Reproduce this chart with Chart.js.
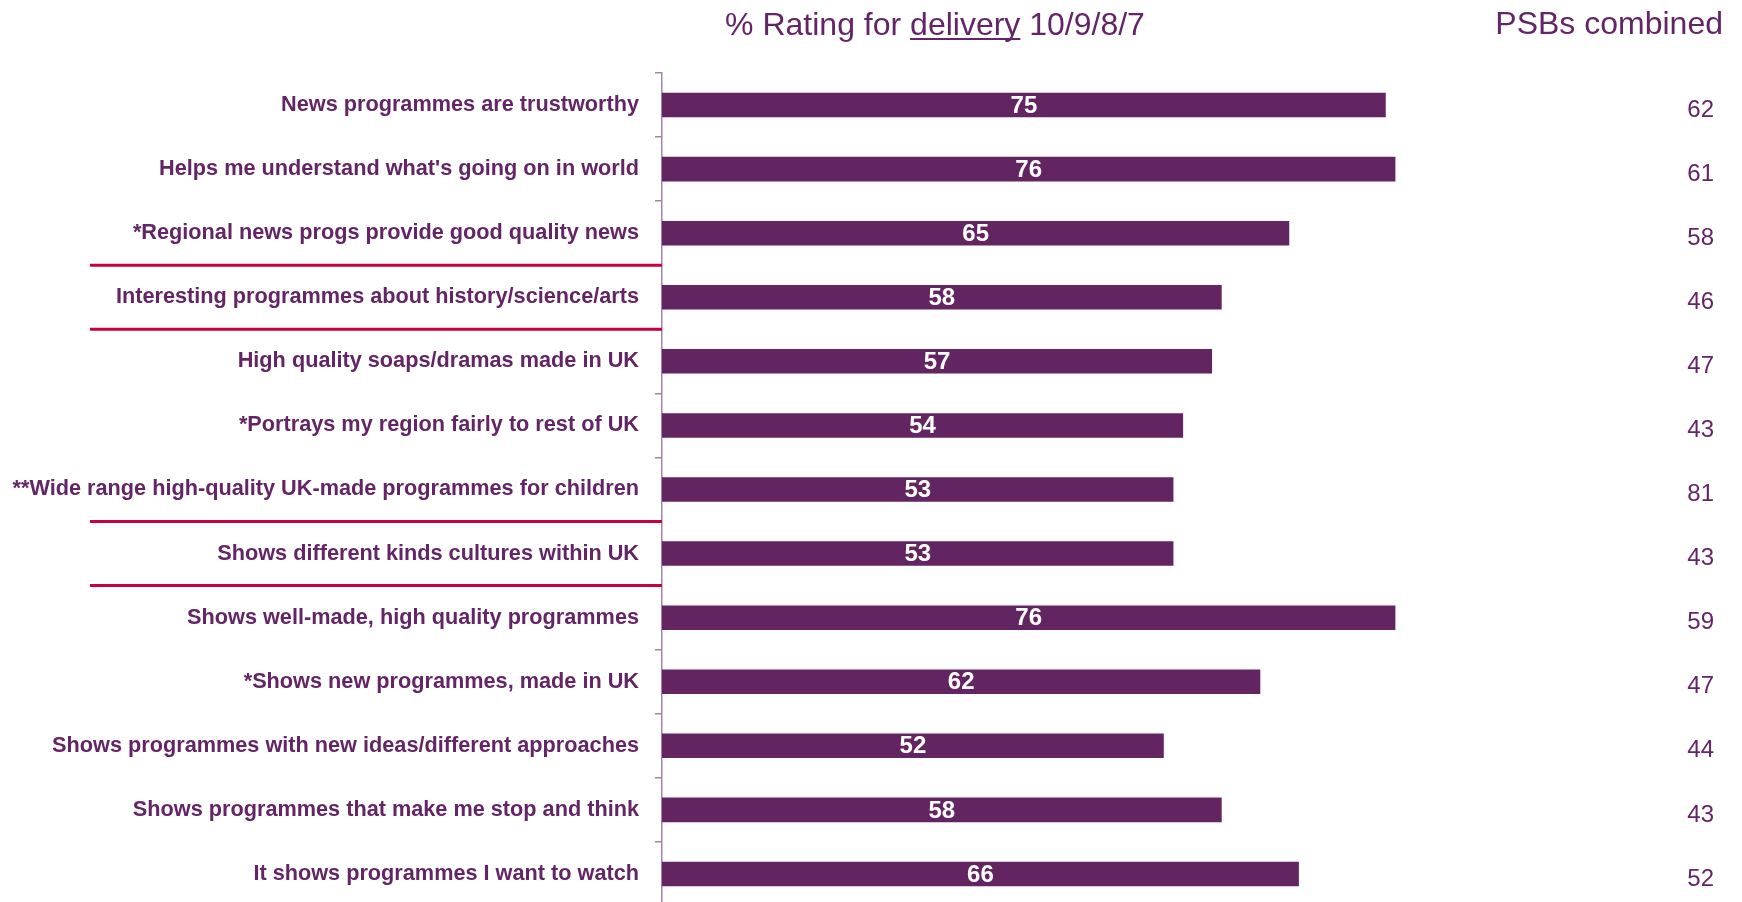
<!DOCTYPE html>
<html>
<head>
<meta charset="utf-8">
<title>% Rating for delivery</title>
<script src="https://cdn.jsdelivr.net/npm/chart.js@4/dist/chart.umd.min.js"></script>
<style>
  html, body { margin: 0; padding: 0; background: #ffffff; overflow: hidden; }
  #wrap { width: 1742px; height: 902px; overflow: hidden; position: relative; }
  canvas { display: block; }
</style>
</head>
<body>
<div id="wrap"><canvas id="chart" width="1742" height="912"></canvas></div>
<script>
// Statements rated by viewers
const categories = [
  "News programmes are trustworthy",
  "Helps me understand what's going on in world",
  "*Regional news progs provide good quality news",
  "Interesting programmes about history/science/arts",
  "High quality soaps/dramas made in UK",
  "*Portrays my region fairly to rest of UK",
  "**Wide range high-quality UK-made programmes for children",
  "Shows different kinds cultures within UK",
  "Shows well-made, high quality programmes",
  "*Shows new programmes, made in UK",
  "Shows programmes with new ideas/different approaches",
  "Shows programmes that make me stop and think",
  "It shows programmes I want to watch"
];

// % rating for delivery (10/9/8/7)
const deliveryScores = [75, 76, 65, 58, 57, 54, 53, 53, 76, 62, 52, 58, 66];

// Comparison column: PSBs combined
const psbCombined = [62, 61, 58, 46, 47, 43, 81, 43, 59, 47, 44, 43, 52];

// Category indices that start a new group (a rule is drawn above each)
const groupBreaks = [3, 4, 7, 8];

const PURPLE = "#632562";
const TEXT = "#642566";
const AXIS = "#A583AA";
const RULE = "#C9003F";
const FONT = "'Liberation Sans', Arial, Helvetica, sans-serif";

const overlay = {
  id: "overlay",
  afterDatasetsDraw(chart) {
    const ctx = chart.ctx;
    const y = chart.scales.y;
    const area = chart.chartArea;
    ctx.save();

    // values inside the bars
    const meta = chart.getDatasetMeta(0);
    ctx.fillStyle = "#ffffff";
    ctx.font = "bold 24px " + FONT;
    ctx.textAlign = "center";
    ctx.textBaseline = "middle";
    meta.data.forEach((bar, i) => {
      ctx.fillText(String(deliveryScores[i]), (bar.x + bar.base) / 2, bar.y + 1);
    });

    // group separator rules on the label side
    ctx.strokeStyle = RULE;
    ctx.lineWidth = 3;
    groupBreaks.forEach(i => {
      const yy = (y.getPixelForValue(i - 1) + y.getPixelForValue(i)) / 2;
      ctx.beginPath();
      ctx.moveTo(90, yy);
      ctx.lineTo(area.left, yy);
      ctx.stroke();
    });

    // PSBs combined column
    ctx.fillStyle = TEXT;
    ctx.font = "24px " + FONT;
    ctx.textAlign = "right";
    ctx.textBaseline = "middle";
    psbCombined.forEach((v, i) => {
      ctx.fillText(String(v), 1714, y.getPixelForValue(i) + 5);
    });

    // headings
    ctx.font = "32px " + FONT;
    ctx.textBaseline = "alphabetic";
    ctx.textAlign = "left";
    const parts = ["% Rating for ", "delivery", " 10/9/8/7"];
    const total = parts.reduce((s, p) => s + ctx.measureText(p).width, 0);
    let x = 935 - total / 2;
    parts.forEach((p, k) => {
      const w = ctx.measureText(p).width;
      ctx.fillText(p, x, 35);
      if (k === 1) {
        ctx.fillRect(x, 38, w, 2);
      }
      x += w;
    });
    ctx.textAlign = "right";
    ctx.fillText("PSBs combined", 1723, 33.5);

    ctx.restore();
  }
};

new Chart(document.getElementById("chart"), {
  type: "bar",
  data: {
    labels: categories,
    datasets: [{
      data: deliveryScores,
      backgroundColor: PURPLE,
      borderWidth: 0,
      categoryPercentage: 1.0,
      barPercentage: 0.383
    }]
  },
  options: {
    indexAxis: "y",
    responsive: false,
    animation: false,
    devicePixelRatio: 1,
    layout: { padding: { top: 73, right: 115, bottom: 6, left: 0 } },
    plugins: {
      legend: { display: false },
      tooltip: { enabled: false },
      title: { display: false }
    },
    scales: {
      x: {
        display: false,
        min: 0,
        max: 100
      },
      y: {
        afterFit(scale) {
          scale.width = 662;
          scale.paddingTop = 0;
          scale.paddingBottom = 0;
        },
        border: { display: true, color: AXIS, width: 1.5 },
        grid: {
          display: true,
          drawOnChartArea: false,
          drawTicks: true,
          tickLength: 7,
          color: AXIS,
          lineWidth: 1.5,
          offset: true
        },
        ticks: {
          color: TEXT,
          padding: 16,
          autoSkip: false,
          font: { family: FONT, size: 21.7, weight: "bold" }
        }
      }
    }
  },
  plugins: [overlay]
});
</script>
</body>
</html>
